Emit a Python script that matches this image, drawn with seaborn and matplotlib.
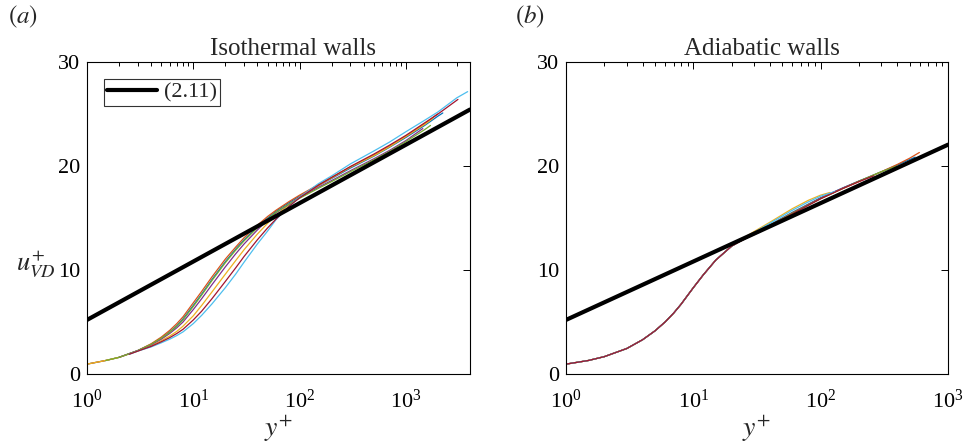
import numpy as np
import pandas as pd
import matplotlib
matplotlib.use("Agg")
import matplotlib.pyplot as plt
import seaborn as sns
from matplotlib.ticker import LogLocator, NullFormatter, FixedLocator

# ---------------- data ----------------
COLORS = ["#0072BD", "#D95319", "#EDB120", "#7E2F8E", "#77AC30", "#4DBEEE", "#A2142F"]
NAMES = ["c1", "c2", "c3", "c4", "c5", "c6", "c7"]

# (a) isothermal walls
iso_blue_y = [1, 1.5, 2, 3, 4, 5, 6, 7, 8, 10, 12, 15, 20, 25, 30, 40, 50, 60, 80, 100, 150, 200, 300, 500, 700, 1000, 1500, 2000, 2220]
iso_blue_u = [0.95, 1.3, 1.6, 2.25, 2.85, 3.45, 4.05, 4.65, 5.3, 6.6, 7.7, 9.1, 10.8, 12.0, 12.9, 14.15, 15.0, 15.65, 16.5, 17.1, 18.1, 18.8, 19.8, 20.95, 21.8, 22.75, 23.9, 24.8, 25.1]
iso_orange_y = [1, 1.5, 2, 3, 4, 5, 6, 7, 8, 10, 12, 15, 20, 25, 30, 40, 50, 60, 80, 100, 150, 200, 300, 500, 700, 1000, 1500, 1980]
iso_orange_u = [0.95, 1.3, 1.6, 2.25, 2.9, 3.55, 4.2, 4.85, 5.5, 6.85, 7.95, 9.35, 11.05, 12.2, 13.1, 14.3, 15.15, 15.75, 16.6, 17.2, 18.2, 18.9, 19.9, 21.05, 21.9, 22.85, 24.05, 25.0]
iso_yellow_y = [1, 1.5, 2, 3, 4, 5, 6, 7, 8, 10, 12, 15, 20, 25, 30, 40, 50, 60, 80, 100, 150, 200, 300, 500, 700, 1000, 1500, 1800]
iso_yellow_u = [0.95, 1.3, 1.6, 2.2, 2.7, 3.2, 3.65, 4.1, 4.6, 5.6, 6.6, 7.9, 9.6, 10.9, 11.95, 13.45, 14.5, 15.25, 16.3, 17.0, 18.1, 18.85, 19.9, 21.0, 21.85, 22.85, 24.0, 24.6]
iso_purple_y = [2, 3, 4, 5, 6, 7, 8, 10, 12, 15, 20, 25, 30, 40, 50, 60, 80, 100, 150, 200, 300, 500, 700, 1000, 1440]
iso_purple_u = [1.6, 2.25, 2.8, 3.35, 3.9, 4.45, 5.0, 6.2, 7.25, 8.6, 10.3, 11.55, 12.5, 13.85, 14.8, 15.5, 16.35, 16.95, 17.95, 18.6, 19.55, 20.7, 21.5, 22.45, 23.6]
iso_green_y = [1.5, 2, 3, 4, 5, 6, 7, 8, 10, 12, 15, 20, 25, 30, 40, 50, 60, 80, 100, 150, 200, 300, 500, 700, 1000, 1500, 1700]
iso_green_u = [1.3, 1.6, 2.25, 2.85, 3.45, 4.0, 4.6, 5.2, 6.5, 7.6, 9.0, 10.7, 11.9, 12.8, 14.05, 14.9, 15.55, 16.35, 16.9, 17.85, 18.5, 19.45, 20.6, 21.4, 22.35, 23.5, 23.9]
iso_cyan_y = [2.5, 3, 4, 5, 6, 7, 8, 10, 12, 15, 20, 25, 30, 40, 50, 60, 80, 100, 150, 200, 300, 500, 700, 1000, 1500, 2000, 3000, 3800]
iso_cyan_u = [1.9, 2.2, 2.6, 3.0, 3.35, 3.7, 4.05, 4.85, 5.65, 6.75, 8.3, 9.6, 10.75, 12.5, 13.75, 14.85, 16.15, 17.0, 18.3, 19.05, 20.2, 21.45, 22.3, 23.3, 24.4, 25.2, 26.55, 27.15]
iso_red_y = [2.5, 3, 4, 5, 6, 7, 8, 10, 12, 15, 20, 25, 30, 40, 50, 60, 80, 100, 150, 200, 300, 500, 700, 1000, 1500, 2000, 3080]
iso_red_u = [1.9, 2.2, 2.65, 3.1, 3.5, 3.9, 4.3, 5.2, 6.05, 7.25, 8.9, 10.2, 11.3, 12.9, 14.05, 14.9, 16.15, 16.95, 18.15, 18.9, 19.95, 21.15, 22.0, 22.95, 24.15, 25.0, 26.4]

# (b) adiabatic walls: common near-wall part, then the individual tails
adi_near_y = [1, 1.5, 2, 3, 4, 5, 6, 7, 8, 10, 12, 15, 20]
adi_near_u = [0.95, 1.3, 1.67, 2.45, 3.3, 4.15, 5.0, 5.85, 6.7, 8.3, 9.55, 10.95, 12.3]
adi_blue_y = [25, 30, 40, 60, 100, 150, 200, 300, 400, 552]
adi_blue_u = [13.0, 13.5, 14.35, 15.55, 16.95, 17.9, 18.55, 19.45, 20.1, 20.85]
adi_orange_y = [25, 30, 40, 60, 100, 150, 200, 300, 400, 500, 596]
adi_orange_u = [13.0, 13.5, 14.3, 15.5, 16.9, 17.85, 18.5, 19.45, 20.15, 20.75, 21.3]
adi_yellow_y = [25, 30, 40, 60, 80, 100, 118]
adi_yellow_u = [13.1, 13.7, 14.6, 15.9, 16.7, 17.2, 17.45]
adi_purple_y = [25, 30, 40, 60, 100, 150, 200, 250]
adi_purple_u = [12.95, 13.45, 14.25, 15.45, 16.9, 17.9, 18.55, 19.0]
adi_green_y = [25, 30, 40, 60, 100, 150, 200, 300, 398]
adi_green_u = [12.95, 13.45, 14.25, 15.45, 16.85, 17.85, 18.55, 19.45, 20.0]
adi_cyan_y = [25, 30, 40, 60, 80, 100, 130]
adi_cyan_u = [13.05, 13.6, 14.5, 15.75, 16.55, 17.1, 17.55]
adi_red_y = [25, 30, 40, 60, 100, 150, 200, 260]
adi_red_u = [12.95, 13.4, 14.2, 15.4, 16.85, 17.85, 18.5, 19.05]

# log law (2.11): end points of the straight line in semilog axes
law_a_y = [1, 4000]
law_a_u = [5.2, 25.43]
law_b_y = [1, 1000]
law_b_u = [5.2, 22.05]

panel_titles = ["Isothermal walls", "Adiabatic walls"]
panel_tags = [r"$(\mathit{a})$", r"$(\mathit{b})$"]
xlims = [(1, 4000), (1, 1000)]
yticks = [0, 10, 20, 30]
legend_label = "(2.11)"

iso = [(iso_blue_y, iso_blue_u), (iso_orange_y, iso_orange_u), (iso_yellow_y, iso_yellow_u),
       (iso_purple_y, iso_purple_u), (iso_green_y, iso_green_u), (iso_cyan_y, iso_cyan_u),
       (iso_red_y, iso_red_u)]
adi_tails = [(adi_blue_y, adi_blue_u), (adi_orange_y, adi_orange_u), (adi_yellow_y, adi_yellow_u),
             (adi_purple_y, adi_purple_u), (adi_green_y, adi_green_u), (adi_cyan_y, adi_cyan_u),
             (adi_red_y, adi_red_u)]
adi = [(adi_near_y + ty, adi_near_u + tu) for ty, tu in adi_tails]


def frame(curves):
    rows = []
    for name, (ys, us) in zip(NAMES, curves):
        for yy, uu in zip(ys, us):
            rows.append({"curve": name, "yplus": yy, "u": uu})
    return pd.DataFrame(rows)


# ---------------- style ----------------
sns.set_theme(style="white")
plt.rcParams["font.family"] = ["Liberation Serif", "DejaVu Serif"]
plt.rcParams["mathtext.fontset"] = "stix"
plt.rcParams["axes.linewidth"] = 0.8

fig = plt.figure(figsize=(9.65, 4.45), dpi=100)
axes = [fig.add_axes([87 / 965, 71 / 445, 383 / 965, 312 / 445]),
        fig.add_axes([566 / 965, 71 / 445, 382 / 965, 312 / 445])]

datasets = [iso, adi]
laws = [(law_a_y, law_a_u), (law_b_y, law_b_u)]
pal = dict(zip(NAMES, COLORS))
title_x = [0.538, 0.513]

for k, ax in enumerate(axes):
    df = frame(datasets[k])
    sns.lineplot(data=df, x="yplus", y="u", hue="curve", units="curve", estimator=None,
                 sort=False, palette=pal, linewidth=0.9, legend=False, ax=ax)
    law = pd.DataFrame({"yplus": laws[k][0], "u": laws[k][1]})
    sns.lineplot(data=law, x="yplus", y="u", color="black", linewidth=3.0,
                 ax=ax, label=legend_label if k == 0 else None, legend=False)
    ax.set_xscale("log")
    ax.set_xlim(*xlims[k])
    ax.set_ylim(0, 30)
    ax.yaxis.set_major_locator(FixedLocator(yticks))
    ax.xaxis.set_major_locator(LogLocator(base=10, numticks=10))
    ax.xaxis.set_minor_locator(LogLocator(base=10, subs=np.arange(2, 10), numticks=20))
    ax.xaxis.set_minor_formatter(NullFormatter())
    ax.tick_params(which="both", direction="in", top=True, right=True, colors="black",
                   labelsize=16, width=0.7)
    ax.tick_params(which="major", length=5)
    ax.tick_params(which="minor", length=2.8)
    ax.tick_params(axis="x", which="major", pad=11)
    ax.tick_params(axis="y", which="major", pad=5)
    for s in ax.spines.values():
        s.set_color("black")
        s.set_linewidth(0.8)
    ax.set_xlabel(r"$y^{+}$", fontsize=20, va="top")
    ax.xaxis.set_label_coords(0.5, -0.125)
    ax.set_ylabel("")
    ax.set_title(panel_titles[k], fontsize=18, pad=5, x=title_x[k])
    ax.grid(False)

axes[0].set_ylabel(r"$u^{+}_{VD}$", fontsize=19, rotation=0, va="center", ha="center")
axes[0].yaxis.set_label_coords(-0.135, 0.35)

leg = axes[0].legend(loc="upper left", fontsize=16, frameon=True, fancybox=False,
                     edgecolor="black", handlelength=2.25, borderpad=0.15,
                     handletextpad=0.3, borderaxespad=0.75)
leg.get_frame().set_linewidth(0.8)

fig.text(8 / 965, 1 - 17 / 445, panel_tags[0], fontsize=18, va="center", ha="left")
fig.text(515 / 965, 1 - 17 / 445, panel_tags[1], fontsize=18, va="center", ha="left")

fig.savefig("out.png", dpi=100, facecolor="white")
